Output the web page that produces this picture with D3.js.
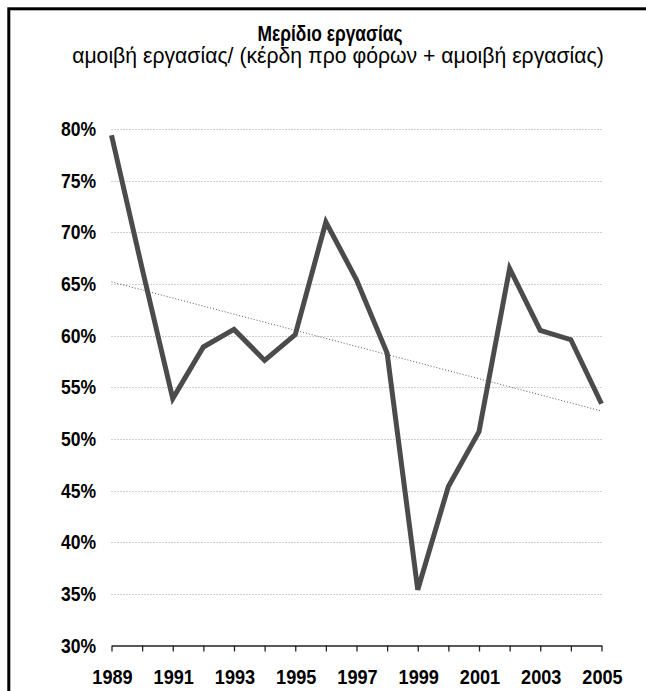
<!DOCTYPE html>
<html>
<head>
<meta charset="utf-8">
<script src="https://cdn.jsdelivr.net/npm/d3@7"></script>
<style>
  html, body { margin: 0; padding: 0; background: #fff; }
  svg { display: block; }
  text { font-family: "Liberation Sans", Arial, "Helvetica", sans-serif; }
</style>
</head>
<body>
<script>
const titleText = "Μερίδιο εργασίας";
const subtitleText = "αμοιβή εργασίας/ (κέρδη προ φόρων + αμοιβή εργασίας)";
const years = [1989,1990,1991,1992,1993,1994,1995,1996,1997,1998,1999,2000,2001,2002,2003,2004,2005];
const laborShare = [79.4,66.5,53.9,58.9,60.6,57.6,60.1,71.0,65.4,58.3,35.4,45.4,50.7,66.5,60.5,59.6,53.4];
const trendYears = [1989, 2005];
const trendValues = [65.2, 52.7];
const yTicks = [30,35,40,45,50,55,60,65,70,75,80];
const xLabelYears = [1989,1991,1993,1995,1997,1999,2001,2003,2005];

const W = 646, H = 691;
const svg = d3.select("body").append("svg").attr("width", W).attr("height", H);

// frame
svg.append("rect").attr("x", 8.8).attr("y", 8.8).attr("width", 720).attr("height", 720)
  .attr("fill", "none").attr("stroke", "#000").attr("stroke-width", 3);

const x = d3.scaleLinear().domain([1989, 2005]).range([111.5, 601.5]);
const y = d3.scaleLinear().domain([30, 80]).range([645.5, 129]);

// horizontally condensed text helper
function fitText(str, cx, by, size, weight, targetW) {
  const t = svg.append("text").attr("text-anchor", "middle")
    .attr("font-size", size).attr("font-weight", weight).attr("fill", "#000").text(str);
  const len = t.node().getComputedTextLength();
  t.attr("transform", `translate(${cx},${by}) scale(${targetW / len},1)`);
  return t;
}

// title & subtitle
fitText(titleText, 330, 40.8, 21.5, "bold", 145);
fitText(subtitleText, 338, 62.7, 21.5, "normal", 532);

// gridlines
svg.append("g").selectAll("line").data(yTicks.filter(d => d > 30)).join("line")
  .attr("x1", x(1989)).attr("x2", x(2005))
  .attr("y1", d => Math.round(y(d)) + 0.5).attr("y2", d => Math.round(y(d)) + 0.5)
  .attr("stroke", "#a0a0a0").attr("stroke-width", 1).attr("stroke-dasharray", "1,2");

// y labels
svg.append("g").selectAll("text").data(yTicks).join("text")
  .attr("text-anchor", "end").attr("font-weight", "bold").attr("font-size", 19.5)
  .attr("fill", "#000")
  .attr("transform", d => `translate(96,${y(d) + 7}) scale(0.9,1)`)
  .text(d => d + "%");

// x axis
const xAxis = d3.axisBottom(x).tickValues(years).tickSize(6).tickSizeOuter(0).tickFormat("");
const gx = svg.append("g").attr("transform", `translate(0,${Math.round(y(30)) - 0.5})`).call(xAxis);
gx.select(".domain").attr("stroke", "#222").attr("stroke-width", 1.3);
gx.selectAll(".tick line").attr("stroke", "#222").attr("stroke-width", 1.3);

svg.append("g").selectAll("text").data(xLabelYears).join("text")
  .attr("text-anchor", "middle").attr("font-weight", "bold").attr("font-size", 19.5)
  .attr("fill", "#000")
  .attr("transform", d => `translate(${x(d) + 1},683.5) scale(0.93,1)`)
  .text(d => d);

// trend line
const trend = trendYears.map((yr, i) => [yr, trendValues[i]]);
svg.append("path").datum(trend)
  .attr("d", d3.line().x(d => x(d[0])).y(d => y(d[1])))
  .attr("fill", "none").attr("stroke", "#555").attr("stroke-width", 1).attr("stroke-dasharray", "1,2");

// data line
const pts = years.map((yr, i) => [yr, laborShare[i]]);
svg.append("path").datum(pts)
  .attr("d", d3.line().x(d => x(d[0])).y(d => y(d[1])))
  .attr("fill", "none").attr("stroke", "#4b4b4b").attr("stroke-width", 5)
  .attr("stroke-linejoin", "miter").attr("stroke-miterlimit", 4);
</script>
</body>
</html>
